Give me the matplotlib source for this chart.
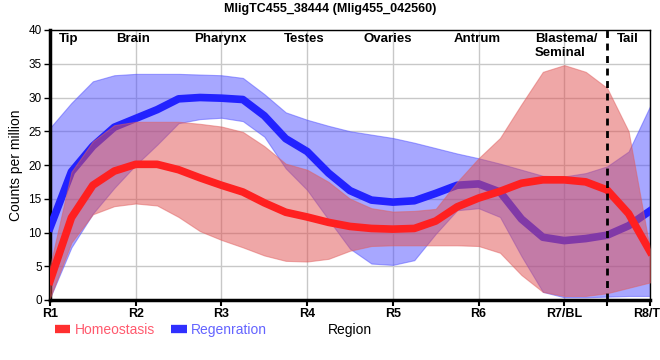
import matplotlib
matplotlib.use('Agg')
import matplotlib.pyplot as plt
from matplotlib.lines import Line2D

plt.rcParams['font.family'] = ['Liberation Sans', 'DejaVu Sans']

# region positions (R1 = 0 ... R8 = 7), read every quarter region
pos = [0, .25, .5, .75, 1, 1.25, 1.5, 1.75, 2, 2.25, 2.5, 2.75, 3, 3.25, 3.5,
       3.75, 4, 4.25, 4.5, 4.75, 5, 5.25, 5.5, 5.75, 6, 6.25, 6.5, 6.75, 7]

homeo_mean = [2.8, 12.2, 17.0, 19.1, 20.1, 20.1, 19.3, 18.1, 17.0, 16.0, 14.4, 13.0, 12.3, 11.5, 10.9,
              10.6, 10.5, 10.6, 11.7, 13.8, 15.1, 16.1, 17.3, 17.8, 17.8, 17.5, 16.3, 12.8, 7.2]
homeo_hi = [5.0, 19.0, 23.5, 25.9, 26.4, 26.4, 26.4, 26.1, 25.7, 24.9, 22.8, 20.2, 19.3, 17.5, 15.0,
            13.6, 13.1, 13.2, 13.5, 17.5, 21.0, 24.0, 29.0, 33.8, 34.8, 33.8, 31.4, 25.0, 7.5]
homeo_lo = [0.3, 8.5, 12.7, 13.9, 14.3, 14.0, 12.3, 10.2, 8.9, 7.8, 6.6, 5.8, 5.7, 6.1, 7.3,
            8.0, 8.1, 8.1, 8.1, 8.1, 8.0, 7.0, 3.7, 1.2, 0.6, 0.6, 1.0, 1.8, 2.6]

regen_mean = [10.7, 19.0, 22.8, 25.6, 26.9, 28.2, 29.8, 30.0, 29.9, 29.7, 27.3, 23.9, 22.0, 18.8, 16.2,
              14.8, 14.5, 14.7, 15.8, 17.0, 17.2, 16.0, 12.0, 9.3, 8.8, 9.1, 9.6, 11.0, 13.2]
regen_hi = [25.5, 29.2, 32.4, 33.3, 33.5, 33.5, 33.5, 33.4, 33.3, 32.9, 30.5, 27.8, 26.7, 25.8, 25.0,
            24.5, 24.0, 23.3, 22.5, 21.7, 21.0, 20.2, 19.3, 18.4, 18.3, 18.8, 19.8, 22.0, 28.7]
regen_lo = [0.3, 7.8, 12.8, 16.6, 20.0, 23.0, 26.2, 26.8, 27.0, 26.5, 24.2, 19.5, 16.3, 11.9, 7.6,
            5.4, 5.2, 5.9, 9.8, 13.3, 13.6, 12.3, 6.5, 1.2, 0.4, 0.4, 0.5, 0.6, 0.6]

regions = ['R1', 'R2', 'R3', 'R4', 'R5', 'R6', 'R7/BL', 'R8/TL']
tissues = ['Tip', 'Brain', 'Pharynx', 'Testes', 'Ovaries', 'Antrum', 'Blastema/\nSeminal', 'Tail']
tissue_pos = [0.22, 0.97, 1.99, 2.96, 3.94, 4.98, 6.02, 6.74]
tail_cut = 6.5

fig = plt.figure(figsize=(6.6, 3.6), dpi=100)
ax = fig.add_axes([50/660, 60/360, 600/660, 270/360])

# bands and lines
ax.fill_between(pos, regen_lo, regen_hi, color='#5050ff', alpha=0.5, lw=0.8, zorder=2)
ax.plot(pos, regen_mean, color='#2222ff', lw=5.5, solid_joinstyle='round', zorder=3)
ax.fill_between(pos, homeo_lo, homeo_hi, facecolor='#e05050', edgecolor='#e06060', alpha=0.5, lw=0.8, zorder=4)
ax.plot(pos, homeo_mean, color='#ff2020', lw=5.5, solid_joinstyle='round', zorder=5)

ax.axvline(tail_cut, color='black', lw=2, linestyle=(0, (2.5, 2)), zorder=6)

for x, t in zip(tissue_pos, tissues):
    ax.text(x, 39.5, t, ha='center', va='top', fontsize=9.5, fontweight='bold', multialignment='left', zorder=7)

ax.set_xlim(0, 7)
ax.set_ylim(0, 40)
ax.set_xticks(range(8))
ax.set_xticks([tail_cut], minor=True)
ax.set_xticklabels(regions, fontsize=9, fontweight='bold')
ax.set_yticks(range(0, 41, 5))
ax.tick_params(axis='y', labelsize=8.5, length=4, width=1, pad=2)
ax.tick_params(axis='x', which='both', length=4, width=1.5, pad=2)
ax.grid(True, color='#c8c8c8', lw=1, zorder=0)
ax.set_axisbelow(True)

for s in ['left', 'bottom']:
    ax.spines[s].set_linewidth(2.5)
for s in ['top', 'right']:
    ax.spines[s].set_linewidth(1)

ax.set_xlabel('Region', fontsize=10, labelpad=2)
ax.set_ylabel('Counts per million', fontsize=10, labelpad=4)
fig.text(330/660, 1 - 9/360, 'MligTC455_38444 (Mlig455_042560)', ha='center', va='center',
         fontsize=9, fontweight='bold')

handles = [Line2D([], [], color='#ff3030', lw=6, solid_capstyle='butt'),
           Line2D([], [], color='#3030ff', lw=6, solid_capstyle='butt')]
fig.legend(handles, ['Homeostasis', 'Regenration'], loc='center left',
           bbox_to_anchor=(55/660, 1 - 330/360), ncol=2, frameon=False, fontsize=10,
           handlelength=1.1, handletextpad=0.3, columnspacing=1.2, borderpad=0, borderaxespad=0,
           labelcolor=['#ff5a6e', '#6464ff'])

plt.savefig('out.png', dpi=100)
